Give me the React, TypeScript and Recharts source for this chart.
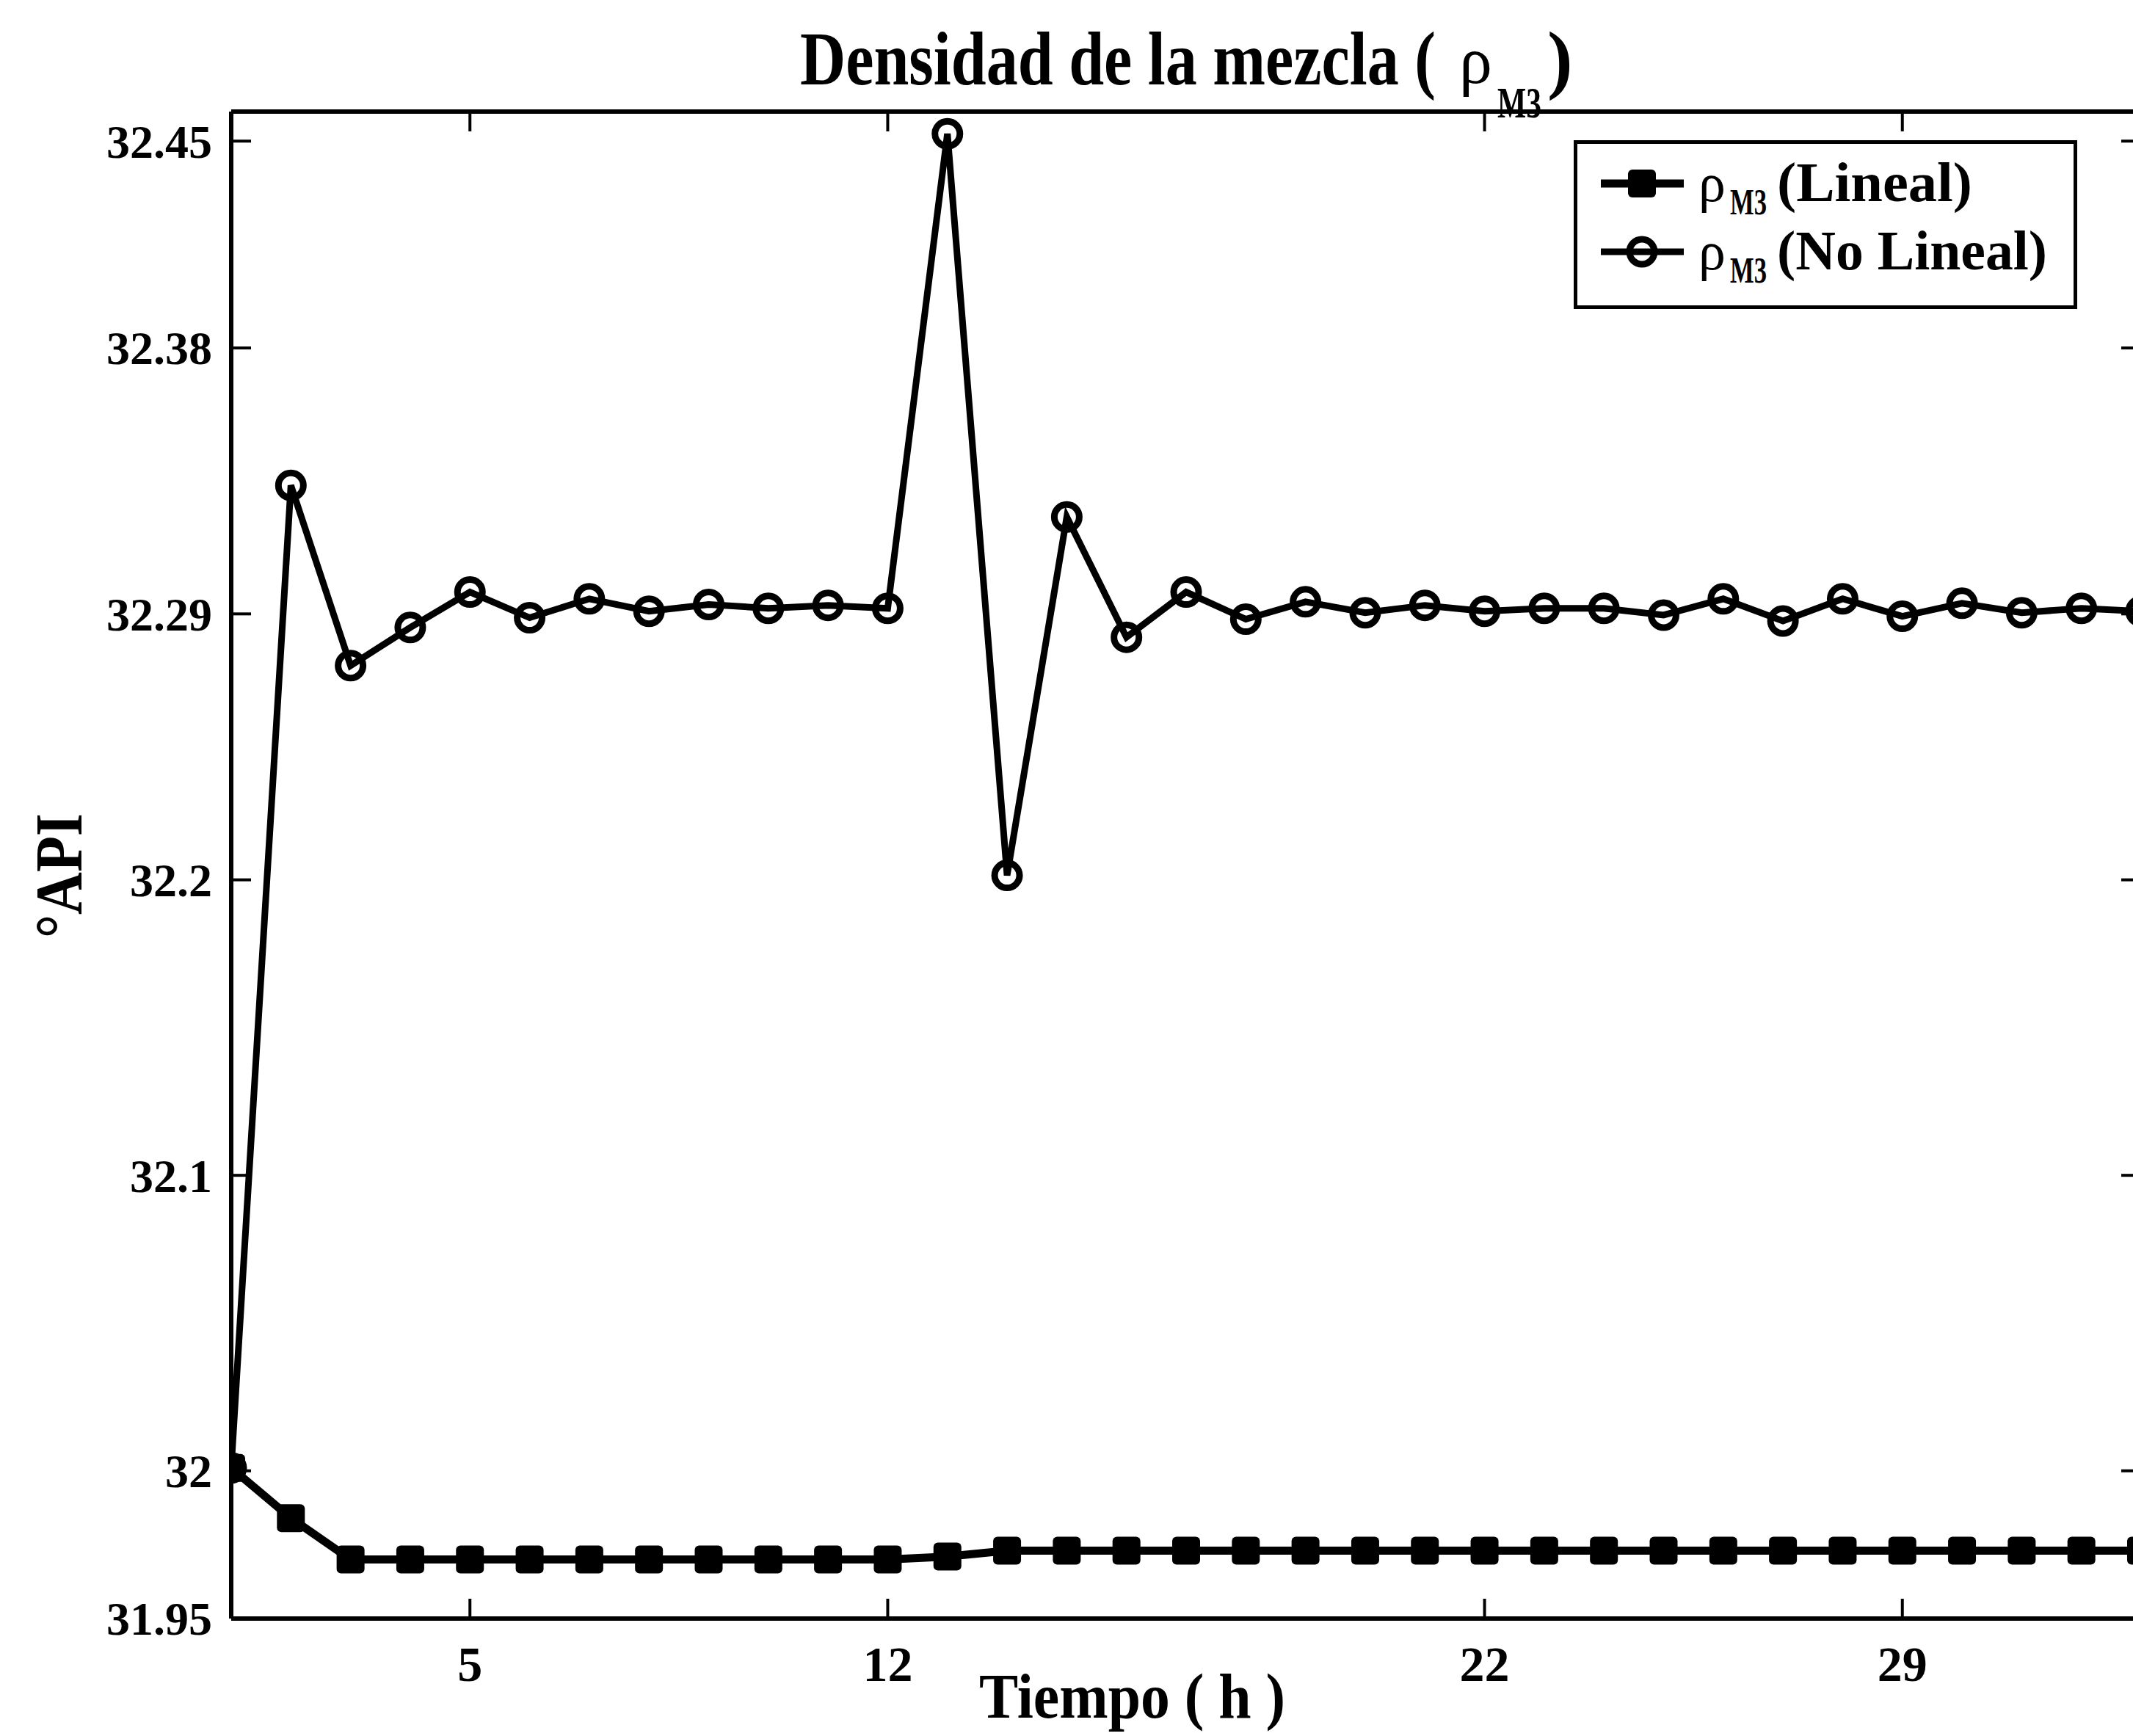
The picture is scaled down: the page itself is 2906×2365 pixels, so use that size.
import React from 'react';
import { LineChart, Line, XAxis, YAxis, Legend } from 'recharts';

// Tiempo (h)
const horas = [1, 2, 3, 4, 5, 6, 7, 8, 9, 10, 11, 12, 13, 14, 15, 16, 17, 18, 19, 20, 21, 22, 23, 24, 25, 26, 27, 28, 29, 30, 31, 32, 33];

// °API, modelo lineal
const lineal = [
  32.001, 31.984, 31.970, 31.970, 31.970, 31.970, 31.970, 31.970, 31.970, 31.970, 31.970,
  31.970, 31.971, 31.973, 31.973, 31.973, 31.973, 31.973, 31.973, 31.973, 31.973, 31.973,
  31.973, 31.973, 31.973, 31.973, 31.973, 31.973, 31.973, 31.973, 31.973, 31.973, 31.973,
];

// °API, modelo no lineal
const noLineal = [
  32.001, 32.3335, 32.2725, 32.2854, 32.2974, 32.2887, 32.2951, 32.2909, 32.2932, 32.2919, 32.2929,
  32.2919, 32.4525, 32.2015, 32.3228, 32.2821, 32.2974, 32.2882, 32.2941, 32.2904, 32.2929, 32.2909,
  32.2919, 32.2919, 32.2896, 32.2951, 32.2876, 32.2951, 32.2892, 32.2936, 32.2904, 32.2919, 32.2909,
];

const ticksX = [5, 12, 22, 29];
const ticksY = [31.95, 32, 32.1, 32.2, 32.29, 32.38, 32.45];
const dominioX = [1, 33];
const dominioY = [31.95, 32.46];

const datos = horas.map((h, i) => ({ h, lineal: lineal[i], noLineal: noLineal[i] }));

const FUENTE = "'Liberation Serif', 'Times New Roman', serif";
const TICK = 27;

// ticks hacia adentro, estilo MATLAB
const TickAbajo = ({ x, y, payload }: any) => (
  <g>
    <line x1={x} y1={y} x2={x} y2={y - TICK} stroke="#000" strokeWidth={4} />
    <text x={x} y={y + 85} textAnchor="middle" fontFamily={FUENTE} fontWeight="bold" fontSize={68} fill="#000">
      {payload.value}
    </text>
  </g>
);

const TickArriba = ({ x, y }: any) => (
  <line x1={x} y1={y} x2={x} y2={y + TICK} stroke="#000" strokeWidth={4} />
);

const TickIzq = ({ x, y, payload }: any) => (
  <g>
    <line x1={x} y1={y} x2={x + TICK} y2={y} stroke="#000" strokeWidth={4} />
    <text x={x - 26} y={y} dy="0.35em" textAnchor="end" fontFamily={FUENTE} fontWeight="bold" fontSize={64} fill="#000">
      {payload.value}
    </text>
  </g>
);

const TickDer = ({ x, y }: any) => (
  <line x1={x} y1={y} x2={x - TICK} y2={y} stroke="#000" strokeWidth={4} />
);

const Cuadro = (props: any) => {
  const { cx, cy, index } = props;
  return <rect key={`c-${index}`} x={cx - 19} y={cy - 19} width={38} height={38} rx={6} fill="#000" />;
};

const Circulo = (props: any) => {
  const { cx, cy, index } = props;
  return <circle key={`o-${index}`} cx={cx} cy={cy} r={17} fill="none" stroke="#000" strokeWidth={9} />;
};

const Leyenda = () => (
  <svg width={686} height={230} style={{ display: 'block' }}>
    <rect x={2.5} y={2.5} width={681} height={225} fill="#fff" stroke="#000" strokeWidth={5} />
    {/* Lineal */}
    <line x1={37} y1={59} x2={150} y2={59} stroke="#000" strokeWidth={11} />
    <rect x={74} y={40} width={38} height={38} rx={6} fill="#000" />
    <text x={170} y={83} fontFamily={FUENTE} fontSize={74} fill="#000">ρ</text>
    <text x={213} y={101} fontFamily={FUENTE} fontWeight="bold" fontSize={50} textLength={50} lengthAdjust="spacingAndGlyphs" fill="#000">M3</text>
    <text x={277} y={83} fontFamily={FUENTE} fontWeight="bold" fontSize={76} textLength={266} lengthAdjust="spacingAndGlyphs" fill="#000">(Lineal)</text>
    {/* No lineal */}
    <line x1={37} y1={152} x2={150} y2={152} stroke="#000" strokeWidth={9} />
    <circle cx={93} cy={152} r={17} fill="none" stroke="#000" strokeWidth={9} />
    <text x={170} y={176} fontFamily={FUENTE} fontSize={74} fill="#000">ρ</text>
    <text x={213} y={194} fontFamily={FUENTE} fontWeight="bold" fontSize={50} textLength={50} lengthAdjust="spacingAndGlyphs" fill="#000">M3</text>
    <text x={277} y={176} fontFamily={FUENTE} fontWeight="bold" fontSize={76} textLength={368} lengthAdjust="spacingAndGlyphs" fill="#000">(No Lineal)</text>
  </svg>
);

export default function App() {
  return (
    <div style={{ position: 'absolute', left: 0, top: 0, width: 2906, height: 2365, overflow: 'hidden', background: '#fff' }}>
      <LineChart width={2930} height={2365} data={datos} margin={{ top: 151, right: 12, bottom: 159, left: 314 }}>
        <XAxis
          dataKey="h"
          type="number"
          domain={dominioX}
          ticks={ticksX}
          interval={0}
          height={1}
          tickSize={0}
          tickMargin={0}
          tickLine={false}
          tick={<TickAbajo />}
          axisLine={{ stroke: '#000', strokeWidth: 6 }}
          allowDataOverflow
        />
        <XAxis
          xAxisId="arriba"
          dataKey="h"
          orientation="top"
          type="number"
          domain={dominioX}
          ticks={ticksX}
          interval={0}
          height={1}
          tickSize={0}
          tickMargin={0}
          tickLine={false}
          tick={<TickArriba />}
          axisLine={{ stroke: '#000', strokeWidth: 6 }}
          allowDataOverflow
        />
        <YAxis
          type="number"
          domain={dominioY}
          ticks={ticksY}
          interval={0}
          width={1}
          tickSize={0}
          tickMargin={0}
          tickLine={false}
          tick={<TickIzq />}
          axisLine={{ stroke: '#000', strokeWidth: 6 }}
          allowDataOverflow
        />
        <YAxis
          yAxisId="der"
          orientation="right"
          type="number"
          domain={dominioY}
          ticks={ticksY}
          interval={0}
          width={1}
          tickSize={0}
          tickMargin={0}
          tickLine={false}
          tick={<TickDer />}
          axisLine={{ stroke: '#000', strokeWidth: 6 }}
          allowDataOverflow
        />
        <Legend
          layout="horizontal"
          verticalAlign="middle"
          align="center"
          content={() => <Leyenda />}
          wrapperStyle={{ left: 2144, top: 191, width: 686, height: 230 }}
        />
        <Line
          dataKey="lineal"
          type="linear"
          stroke="#000"
          strokeWidth={11}
          dot={Cuadro}
          activeDot={false}
          isAnimationActive={false}
        />
        <Line
          dataKey="noLineal"
          type="linear"
          stroke="#000"
          strokeWidth={9}
          dot={Circulo}
          activeDot={false}
          isAnimationActive={false}
        />
      </LineChart>

      {/* Título y etiquetas de ejes */}
      <svg width={2906} height={2365} style={{ position: 'absolute', left: 0, top: 0, pointerEvents: 'none' }}>
        <text x={1090} y={115} fontFamily={FUENTE} fontWeight="bold" fontSize={104} textLength={866} lengthAdjust="spacingAndGlyphs" fill="#000">
          Densidad de la mezcla (
        </text>
        <text x={1988} y={113} fontFamily={FUENTE} fontSize={90} fill="#000">ρ</text>
        <text x={2040} y={160} fontFamily={FUENTE} fontWeight="bold" fontSize={60} textLength={60} lengthAdjust="spacingAndGlyphs" fill="#000">M3</text>
        <text x={2108} y={115} fontFamily={FUENTE} fontWeight="bold" fontSize={104} fill="#000">)</text>
        <text x={1334} y={2340} fontFamily={FUENTE} fontWeight="bold" fontSize={86} textLength={417} lengthAdjust="spacingAndGlyphs" fill="#000">
          Tiempo ( h )
        </text>
        <text
          transform="translate(111,1193) rotate(-90)"
          textAnchor="middle"
          fontFamily={FUENTE}
          fontWeight="bold"
          fontSize={92}
          textLength={170}
          lengthAdjust="spacingAndGlyphs"
          fill="#000"
        >
          °API
        </text>
      </svg>
    </div>
  );
}
